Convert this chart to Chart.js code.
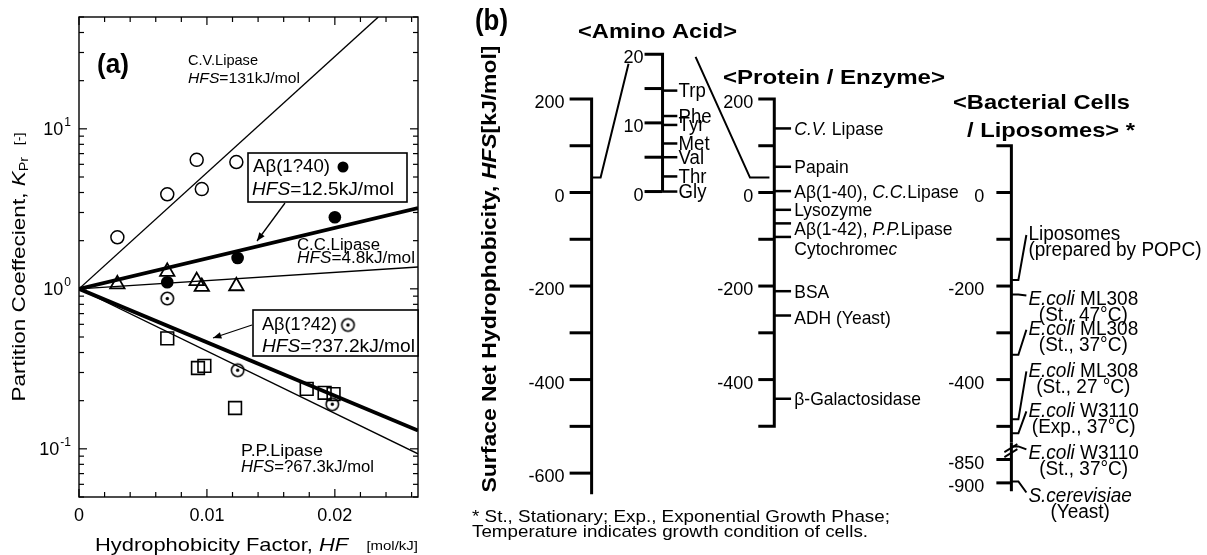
<!DOCTYPE html>
<html lang="en">
  <head>
    <meta charset="UTF-8" />
    <title>Partition coefficient and surface net hydrophobicity</title>
    <script src="https://cdn.jsdelivr.net/npm/chart.js"></script>
    <style>
      html, body { margin: 0; padding: 0; background: #fff; }
      #wrap { position: relative; width: 1207px; height: 555px; }
      #chartA { position: absolute; left: 0; top: 0; }
      #chartB { position: absolute; left: 430px; top: 0; }
    </style>
  </head>
  <body>
    <div id="wrap">
      <canvas id="chartA" width="430" height="555"></canvas>
      <canvas id="chartB" width="777" height="555"></canvas>
    </div>

    <script>
      // ---- (a) partition coefficient K_Pr vs hydrophobicity factor HF ----
      const cvHF = [0.003, 0.0069, 0.0092, 0.0096, 0.0123];
      const cvKpr = [2.1, 3.9, 6.4, 4.2, 6.2];
      const ab40HF = [0.0069, 0.0124, 0.02];
      const ab40Kpr = [1.1, 1.56, 2.8];
      const ccHF = [0.003, 0.0069, 0.0092, 0.0096, 0.0123];
      const ccKpr = [1.07, 1.28, 1.12, 1.03, 1.04];
      const ab42HF = [0.0069, 0.0124, 0.0198];
      const ab42Kpr = [0.87, 0.31, 0.19];
      const ppHF = [0.0069, 0.0093, 0.0098, 0.0122, 0.0178, 0.0192, 0.0199];
      const ppKpr = [0.49, 0.32, 0.33, 0.18, 0.237, 0.224, 0.22];

      // fitted lines (end points)
      const cvFitHF = [0, 0.0234], cvFitKpr = [1, 50];
      const ab40FitHF = [0, 0.0265], ab40FitKpr = [1, 3.2];
      const ccFitHF = [0, 0.0265], ccFitKpr = [1, 1.37];
      const ab42FitHF = [0, 0.0265], ab42FitKpr = [1, 0.13];
      const ppFitHF = [0, 0.0265], ppFitKpr = [1, 0.093];

      const hfTickLabels = [0, 0.01, 0.02];
      const kprTickLabels = [10, 1, 0.1];

      // ---- (b) surface net hydrophobicity HFS [kJ/mol] ----
      const hfsTicks = [200, 100, 0, -100, -200, -300, -400, -500, -600];
      const hfsTickLabels = [200, 0, -200, -400, -600];
      const aminoTicks = [20, 15, 10, 5, 0];
      const aminoTickLabels = [20, 10, 0];
      const aminoNames = ['Trp', 'Phe', 'Tyr', 'Met', 'Val', 'Thr', 'Gly'];
      const aminoHFS = [14.7, 11.0, 9.7, 7.0, 5.0, 2.2, 0];
      const proteinTicks = [200, 100, 0, -100, -200, -300, -400, -500];
      const proteinTickLabels = [200, 0, -200, -400];
      const proteinNames = ['_C.V._ Lipase', 'Papain', 'Aβ(1-40), _C.C._Lipase', 'Lysozyme',
        'Aβ(1-42), _P.P._Lipase', 'Cytochrome_c_', 'BSA', 'ADH (Yeast)', 'β-Galactosidase'];
      const proteinHFS = [137, 55, 3, -37, -66, -95, -211, -263, -441];
      const cellTicks = [100, 0, -100, -200, -300, -400, -500];
      const cellTickLabels = [0, -200, -400];
      const cellBreakTicks = [-850, -900];
      const cellNames = ['Liposomes', '_E.coli_ ML308', '_E.coli_ ML308', '_E.coli_ ML308',
        '_E.coli_ W3110', '_E.coli_ W3110', '_S.cerevisiae_'];
      const cellNotes = ['(prepared by POPC)', '(St., 47°C)', '(St., 37°C)', '(St., 27 °C)',
        '(Exp., 37°C)', '(St., 37°C)', '(Yeast)'];
      const cellHFS = [-187, -218, -347, -485, -515, -822, -897];

      // ---- layout (pixels) ----
      const FONT = '"Liberation Sans", Arial, Helvetica, sans-serif';
      const AX = { main: 155, amino: 228, protein: 343, cell: 587 };
      const mainEnd = -645, proteinEnd = -500, cellMainEnd = -535, cellBreakTop = -815, cellBreakEnd = -918;
      const zoomLink = { hfs: 32, aminoLeft: 18.6, aminoRight: 19.6 };
      const proteinLabelDy = [0, 0, 1, 0, 5, 12, 1, 2, 0];
      const cellLabelDy = [-45, 5, -25, -48, -22, 7, 15];
      const hfsPx = 0.487, hfsZeroY = 189;      // main HFS scale
      const aaPx = 7.15, aaZeroY = 188;         // amino-acid scale
      const brkY = 467;                         // y of -850 below the break

      const pts = (xs, ys) => xs.map((v, i) => ({ x: v, y: ys[i] }));
      const fontOf = s => `${s.it ? 'italic ' : ''}${s.b ? 'bold ' : ''}${s.size}px ${FONT}`;
      const rich = (str, size, b) =>
        str.split('_').map((t, i) => ({ t, it: i % 2 === 1, size, b })).filter(s => s.t);

      function drawSegs(ctx, segs, x, y, o = {}) {
        let w = 0;
        segs.forEach(s => { ctx.font = fontOf(s); s.w = ctx.measureText(s.t).width; w += s.w; });
        const sx = o.width ? o.width / w : (o.sx || 1);
        const tw = w * sx;
        ctx.save();
        ctx.translate(x, y);
        if (o.rotate) ctx.rotate(o.rotate);
        ctx.translate(o.align === 'right' ? -tw : o.align === 'center' ? -tw / 2 : 0, 0);
        ctx.scale(sx, 1);
        ctx.textAlign = 'left';
        ctx.textBaseline = 'middle';
        let cx = 0;
        segs.forEach(s => { ctx.font = fontOf(s); ctx.fillText(s.t, cx, s.dy || 0); cx += s.w; });
        ctx.restore();
        return tw;
      }
      const textWidth = (ctx, segs, sx) => {
        let w = 0;
        segs.forEach(s => { ctx.font = fontOf(s); w += ctx.measureText(s.t).width; });
        return w * (sx || 1);
      };
      function seg(ctx, x1, y1, x2, y2) {
        ctx.beginPath(); ctx.moveTo(x1, y1); ctx.lineTo(x2, y2); ctx.stroke();
      }
      function arrow(ctx, x1, y1, x2, y2, head) {
        seg(ctx, x1, y1, x2, y2);
        const a = Math.atan2(y2 - y1, x2 - x1);
        ctx.beginPath();
        ctx.moveTo(x2, y2);
        ctx.lineTo(x2 - head * Math.cos(a - 0.38), y2 - head * Math.sin(a - 0.38));
        ctx.lineTo(x2 - head * Math.cos(a + 0.38), y2 - head * Math.sin(a + 0.38));
        ctx.closePath();
        ctx.fill();
      }

      // circle with a centre dot, used for A-beta(1-42)
      function dotCircle() {
        const c = document.createElement('canvas');
        c.width = c.height = 17;
        const g = c.getContext('2d');
        g.strokeStyle = '#000';
        g.lineWidth = 1.6;
        g.beginPath(); g.arc(8.5, 8.5, 6.2, 0, Math.PI * 2); g.stroke();
        g.fillStyle = '#000';
        g.beginPath(); g.arc(8.5, 8.5, 1.7, 0, Math.PI * 2); g.fill();
        return c;
      }

      const panelA = {
        id: 'panelA',
        afterDatasetsDraw(chart) {
          const { ctx, chartArea: a } = chart;
          const { x, y } = chart.scales;
          ctx.save();
          ctx.strokeStyle = '#000';
          ctx.fillStyle = '#000';

          // frame and inward ticks
          ctx.lineWidth = 1.4;
          ctx.strokeRect(a.left, a.top, a.right - a.left, a.bottom - a.top);
          ctx.lineWidth = 1.2;
          for (let i = 0; i * 0.002 <= x.max; i++) {
            const px = x.getPixelForValue(i * 0.002);
            const len = i % 5 === 0 ? 8 : 5;
            seg(ctx, px, a.bottom, px, a.bottom - len);
            seg(ctx, px, a.top, px, a.top + len);
          }
          for (let d = -2; d <= 1; d++) {
            for (let m = 1; m <= 9; m++) {
              const v = m * Math.pow(10, d);
              if (v < y.min || v > y.max) continue;
              const py = y.getPixelForValue(v);
              const len = m === 1 ? 8 : 5;
              seg(ctx, a.left, py, a.left + len, py);
              seg(ctx, a.right, py, a.right - len, py);
            }
          }

          // y tick labels 10^n
          kprTickLabels.forEach(v => {
            const py = y.getPixelForValue(v);
            const e = String(Math.round(Math.log10(v)));
            ctx.font = `12px ${FONT}`;
            const ew = ctx.measureText(e).width;
            ctx.textBaseline = 'middle';
            ctx.textAlign = 'right';
            ctx.font = `18px ${FONT}`;
            ctx.fillText('10', a.left - 8 - ew - 1, py + 1);
            ctx.textAlign = 'left';
            ctx.font = `12px ${FONT}`;
            ctx.fillText(e, a.left - 8 - ew, py - 6);
          });

          // axis titles
          drawSegs(ctx, [
            { t: 'Hydrophobicity Factor, ', size: 19 },
            { t: 'HF', it: true, size: 19 },
            { t: '   ', size: 19 },
            { t: '[mol/kJ]', size: 13 }
          ], 95, 546, { width: 323 });
          drawSegs(ctx, [
            { t: 'Partition Coeffecient, ', size: 19 },
            { t: 'K', it: true, size: 19 },
            { t: 'Pr', size: 12, dy: 5 },
            { t: '   [-]', size: 12 }
          ], 20, 267, { rotate: -Math.PI / 2, align: 'center', width: 269 });

          // annotations
          drawSegs(ctx, rich('(a)', 28, true), 97, 65, { width: 32 });
          drawSegs(ctx, rich('C.V.Lipase', 15), 188, 61, { width: 70 });
          drawSegs(ctx, rich('_HFS_=131kJ/mol', 15), 188, 79, { width: 112 });
          drawSegs(ctx, rich('C.C.Lipase', 16), 297, 246, { width: 83 });
          drawSegs(ctx, rich('_HFS_=4.8kJ/mol', 16), 297, 259, { width: 118 });
          drawSegs(ctx, rich('P.P.Lipase', 16), 241, 452, { width: 82 });
          drawSegs(ctx, rich('_HFS_=?67.3kJ/mol', 16), 241, 468, { width: 133 });

          ctx.lineWidth = 1.6;
          ctx.fillStyle = '#fff';
          ctx.fillRect(248, 153, 159, 49);
          ctx.strokeRect(248, 153, 159, 49);
          ctx.fillRect(253, 310, 165, 46);
          ctx.strokeRect(253, 310, 165, 46);
          ctx.fillStyle = '#000';
          drawSegs(ctx, rich('Aβ(1?40)', 19), 253, 167, { width: 77 });
          drawSegs(ctx, rich('_HFS_=12.5kJ/mol', 19), 252, 190, { width: 142 });
          ctx.beginPath(); ctx.arc(343, 167, 5.5, 0, Math.PI * 2); ctx.fill();
          drawSegs(ctx, rich('Aβ(1?42)', 19), 262, 325, { width: 75 });
          drawSegs(ctx, rich('_HFS_=?37.2kJ/mol', 19), 262, 347, { width: 153 });
          ctx.drawImage(dotImg, 348 - 8.5, 325 - 8.5);

          ctx.lineWidth = 1.3;
          arrow(ctx, 285, 203, 257, 241, 9);
          arrow(ctx, 252, 325, 213, 338, 9);
          ctx.restore();
        }
      };

      const dotImg = dotCircle();
      const blank = 'rgba(0,0,0,0)';

      new Chart(document.getElementById('chartA'), {
        type: 'scatter',
        data: {
          datasets: [
            { label: 'C.V. fit', data: pts(cvFitHF, cvFitKpr), showLine: true, borderColor: '#000', borderWidth: 1.4, pointRadius: 0 },
            { label: 'Aβ(1-40) fit', data: pts(ab40FitHF, ab40FitKpr), showLine: true, borderColor: '#000', borderWidth: 3.8, pointRadius: 0 },
            { label: 'C.C. fit', data: pts(ccFitHF, ccFitKpr), showLine: true, borderColor: '#000', borderWidth: 1.4, pointRadius: 0 },
            { label: 'Aβ(1-42) fit', data: pts(ab42FitHF, ab42FitKpr), showLine: true, borderColor: '#000', borderWidth: 3.8, pointRadius: 0 },
            { label: 'P.P. fit', data: pts(ppFitHF, ppFitKpr), showLine: true, borderColor: '#000', borderWidth: 1.4, pointRadius: 0 },
            { label: 'C.V.Lipase', data: pts(cvHF, cvKpr), pointStyle: 'circle', pointRadius: 6.5, borderWidth: 1.5, borderColor: '#000', backgroundColor: blank },
            { label: 'Aβ(1-40)', data: pts(ab40HF, ab40Kpr), pointStyle: 'circle', pointRadius: 6.3, borderWidth: 0, backgroundColor: '#000' },
            { label: 'C.C.Lipase', data: pts(ccHF, ccKpr), pointStyle: 'triangle', pointRadius: 8.3, borderWidth: 1.8, borderColor: '#000', backgroundColor: blank },
            { label: 'P.P.Lipase', data: pts(ppHF, ppKpr), pointStyle: 'rect', pointRadius: 9, borderWidth: 1.6, borderColor: '#000', backgroundColor: blank },
            { label: 'Aβ(1-42)', data: pts(ab42HF, ab42Kpr), pointStyle: dotImg, pointRadius: 6 }
          ]
        },
        options: {
          responsive: false,
          animation: false,
          devicePixelRatio: 1,
          events: [],
          layout: { padding: { top: 17, right: 12, left: 0, bottom: 0 } },
          plugins: { legend: { display: false }, tooltip: { enabled: false } },
          scales: {
            x: {
              type: 'linear', min: 0, max: 0.0265,
              grid: { display: false, drawTicks: false },
              border: { display: false },
              afterBuildTicks: s => { s.ticks = hfTickLabels.map(v => ({ value: v })); },
              afterFit: s => { s.height = 58; },
              ticks: {
                color: '#000', padding: 8, maxRotation: 0, autoSkip: false,
                font: { family: FONT, size: 18 },
                callback: v => String(v)
              }
            },
            y: {
              type: 'logarithmic', min: 0.05, max: 50,
              grid: { display: false, drawTicks: false },
              border: { display: false },
              ticks: { display: false },
              afterFit: s => { s.width = 79; }
            }
          }
        },
        plugins: [panelA]
      });

      const panelB = {
        id: 'panelB',
        afterDatasetsDraw(chart) {
          const { ctx } = chart;
          const { x: xs, y: ym, yAmino: ya, yBreak: yb } = chart.scales;
          const X = v => xs.getPixelForValue(v);
          const Y = v => ym.getPixelForValue(v);
          const YA = v => ya.getPixelForValue(v);
          const YB = v => yb.getPixelForValue(v);
          const num = (v, px, py) => drawSegs(ctx, rich(String(v), 19), px, py + 4, { align: 'right', sx: 0.95 });
          ctx.save();
          ctx.strokeStyle = '#000';
          ctx.fillStyle = '#000';
          ctx.lineJoin = 'miter';

          // main axis
          const axM = X(AX.main);
          ctx.lineWidth = 3;
          ctx.beginPath();
          ctx.moveTo(axM - 22, Y(hfsTicks[0])); ctx.lineTo(axM, Y(hfsTicks[0])); ctx.lineTo(axM, Y(mainEnd));
          ctx.stroke();
          hfsTicks.slice(1).forEach(v => seg(ctx, axM - 22, Y(v), axM, Y(v)));
          hfsTickLabels.forEach(v => num(v, axM - 27, Y(v)));

          // amino acid axis
          const axA = X(AX.amino);
          ctx.beginPath();
          ctx.moveTo(axA - 18, YA(aminoTicks[0])); ctx.lineTo(axA, YA(aminoTicks[0])); ctx.lineTo(axA, YA(0));
          ctx.stroke();
          aminoTicks.slice(1).forEach(v => seg(ctx, axA - 18, YA(v), axA, YA(v)));
          aminoTickLabels.forEach(v => num(v, axA - 19, YA(v)));
          chart.getDatasetMeta(0).data.forEach((p, i) =>
            drawSegs(ctx, rich(aminoNames[i], 20), axA + 16, p.y + 1, { sx: 0.93 }));

          // zoom connectors
          ctx.lineWidth = 2;
          ctx.beginPath();
          ctx.moveTo(axM, Y(zoomLink.hfs)); ctx.lineTo(axM + 9, Y(zoomLink.hfs)); ctx.lineTo(X(193), YA(zoomLink.aminoLeft));
          ctx.stroke();
          ctx.beginPath();
          ctx.moveTo(X(262), YA(zoomLink.aminoRight)); ctx.lineTo(X(318), Y(zoomLink.hfs)); ctx.lineTo(X(338), Y(zoomLink.hfs));
          ctx.stroke();

          // protein / enzyme axis
          const axP = X(AX.protein);
          ctx.lineWidth = 3;
          ctx.beginPath();
          ctx.moveTo(axP - 16, Y(proteinTicks[0])); ctx.lineTo(axP, Y(proteinTicks[0]));
          ctx.lineTo(axP, Y(proteinEnd)); ctx.lineTo(axP - 16, Y(proteinEnd));
          ctx.stroke();
          proteinTicks.slice(1, -1).forEach(v => seg(ctx, axP - 16, Y(v), axP, Y(v)));
          proteinTickLabels.forEach(v => num(v, axP - 21, Y(v)));
          chart.getDatasetMeta(1).data.forEach((p, i) =>
            drawSegs(ctx, rich(proteinNames[i], 19), axP + 20, p.y + 1 + proteinLabelDy[i], { sx: 0.92 }));

          // bacterial cells / liposomes axis, broken below -500
          const axC = X(AX.cell);
          ctx.beginPath();
          ctx.moveTo(axC - 15, Y(cellTicks[0])); ctx.lineTo(axC, Y(cellTicks[0])); ctx.lineTo(axC, Y(cellMainEnd));
          ctx.moveTo(axC, YB(cellBreakTop)); ctx.lineTo(axC, YB(cellBreakEnd));
          ctx.stroke();
          cellTicks.slice(1).forEach(v => seg(ctx, axC - 15, Y(v), axC, Y(v)));
          cellBreakTicks.forEach(v => seg(ctx, axC - 15, YB(v), axC, YB(v)));
          cellTickLabels.forEach(v => num(v, axC - 27, Y(v)));
          cellBreakTicks.forEach(v => num(v, axC - 27, YB(v)));
          ctx.lineWidth = 1.8;
          const bY = YB(-830);
          [0, 5].forEach(o => seg(ctx, axC - 7, bY + 2 + o, axC + 6, bY - 6 + o));

          ctx.lineWidth = 2;
          cellHFS.forEach((v, i) => {
            const ty = v < cellMainEnd ? YB(v) : Y(v);
            const dy = cellLabelDy[i];
            const ly = ty + dy;
            ctx.beginPath();
            ctx.moveTo(axC, ty);
            ctx.lineTo(axC + 7, ty);
            ctx.lineTo(axC + 15, dy < 0 ? ly : ly - 4);
            ctx.stroke();
            const w1 = drawSegs(ctx, rich(cellNames[i], 20), axC + 17, ly, { sx: 0.95 });
            const n = rich(cellNotes[i], 20);
            const w2 = textWidth(ctx, n, 0.95);
            drawSegs(ctx, n, axC + 17 + Math.max(0, (w1 - w2) / 2), ly + 16, { sx: 0.95 });
          });

          // headings and titles
          drawSegs(ctx, rich('(b)', 30, true), 45, 22, { width: 33 });
          drawSegs(ctx, rich('<Amino Acid>', 21, true), 148, 32, { width: 159 });
          drawSegs(ctx, rich('<Protein / Enzyme>', 21, true), 293, 78, { width: 222 });
          drawSegs(ctx, rich('<Bacterial Cells', 21, true), 523, 103, { width: 177 });
          drawSegs(ctx, rich('/ Liposomes> *', 21, true), 537, 131, { width: 168 });
          drawSegs(ctx, rich('Surface Net Hydrophobicity, _HFS_[kJ/mol]', 21, true), 60, 269,
            { rotate: -Math.PI / 2, align: 'center', width: 447 });
          drawSegs(ctx, rich('* St., Stationary; Exp., Exponential Growth Phase;', 17), 42, 517, { width: 418 });
          drawSegs(ctx, rich('Temperature indicates growth condition of cells.', 17), 42, 532, { width: 396 });
          ctx.restore();
        }
      };

      const H = 555;
      new Chart(document.getElementById('chartB'), {
        type: 'scatter',
        data: {
          datasets: [
            { label: 'Amino acids', data: aminoHFS.map(v => ({ x: AX.amino + 7.5, y: v })), yAxisID: 'yAmino',
              pointStyle: 'line', pointRadius: 7.5, borderWidth: 2.5, borderColor: '#000' },
            { label: 'Proteins / enzymes', data: proteinHFS.map(v => ({ x: AX.protein + 8.5, y: v })), yAxisID: 'y',
              pointStyle: 'line', pointRadius: 8.5, borderWidth: 2.5, borderColor: '#000' }
          ]
        },
        options: {
          responsive: false,
          animation: false,
          devicePixelRatio: 1,
          events: [],
          layout: { padding: 0 },
          plugins: { legend: { display: false }, tooltip: { enabled: false } },
          scales: {
            x: { type: 'linear', display: false, min: 0, max: 777 },
            y: { type: 'linear', display: false, max: hfsZeroY / hfsPx, min: hfsZeroY / hfsPx - H / hfsPx },
            yAmino: { type: 'linear', display: false, max: aaZeroY / aaPx, min: aaZeroY / aaPx - H / aaPx },
            yBreak: { type: 'linear', display: false, max: -850 + brkY / hfsPx, min: -850 + brkY / hfsPx - H / hfsPx }
          }
        },
        plugins: [panelB]
      });
    </script>
  </body>
</html>
